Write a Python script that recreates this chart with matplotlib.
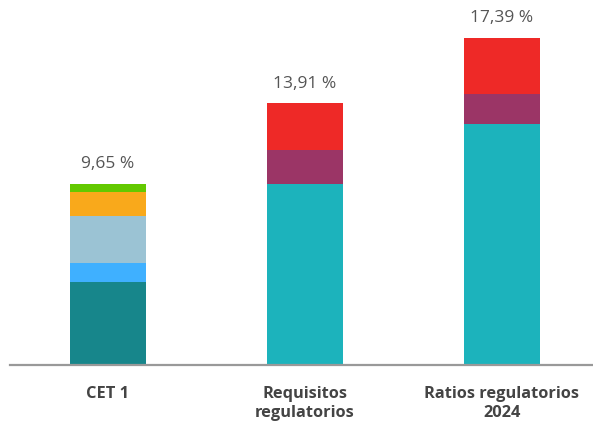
import matplotlib.pyplot as plt
import numpy as np

# ----------------------------
# Data
# ----------------------------
categories = ['CET 1', 'Requisitos\nregulatorios', 'Ratios regulatorios\n2024']
totals = ['9,65 %', '13,91 %', '17,39 %']

# CET 1 breakdown (bottom -> top)
cet1_parts = [4.39, 1.05, 2.49, 1.28, 0.44]
cet1_colors = ['#17868b', '#3fb0ff', '#9bc3d4', '#f9a91b', '#63c900']

# Requisitos / Ratios: base, middle, top
base_vals = [9.65, 12.84]
mid_vals = [1.80, 1.60]
top_vals = [2.46, 2.95]

# ----------------------------
# Figure & layout
# ----------------------------
plt.rcParams['font.family'] = ['Open Sans', 'DejaVu Sans']
fig = plt.figure(figsize=(5.93, 4.33), dpi=100)
ax = fig.add_axes([10/593, 68/433, 583/593, 365/433])

x = np.arange(len(categories))
w = 0.386

bottom = 0.0
for v, c in zip(cet1_parts, cet1_colors):
    ax.bar(x[0], v, width=w, bottom=bottom, color=c, edgecolor='none')
    bottom += v

x2 = x[1:]
base = np.array(base_vals)
mid = np.array(mid_vals)
top = np.array(top_vals)
ax.bar(x2, base, width=w, color='#1cb3bc', edgecolor='none')
ax.bar(x2, mid, width=w, bottom=base, color='#9b3566', edgecolor='none')
ax.bar(x2, top, width=w, bottom=base + mid, color='#ee2927', edgecolor='none')

heights = [sum(cet1_parts)] + list(base + mid + top)
for xi, h, t in zip(x, heights, totals):
    ax.text(xi, h + 1.05, t, ha='center', va='center', fontsize=12.5, color='#555555')

ax.set_xlim(-0.497, 2.462)
ax.set_ylim(0, 365/18.8)

for s in ['top', 'right', 'left']:
    ax.spines[s].set_visible(False)
ax.spines['bottom'].set_color('#999999')
ax.spines['bottom'].set_linewidth(1.6)
ax.set_yticks([])
ax.set_xticks(x)
ax.set_xticklabels(categories, fontsize=11.8, fontweight='bold', color='#444444',
                   linespacing=1.3)
ax.tick_params(axis='x', length=0, pad=15)

fig.savefig('out.png', dpi=100)
